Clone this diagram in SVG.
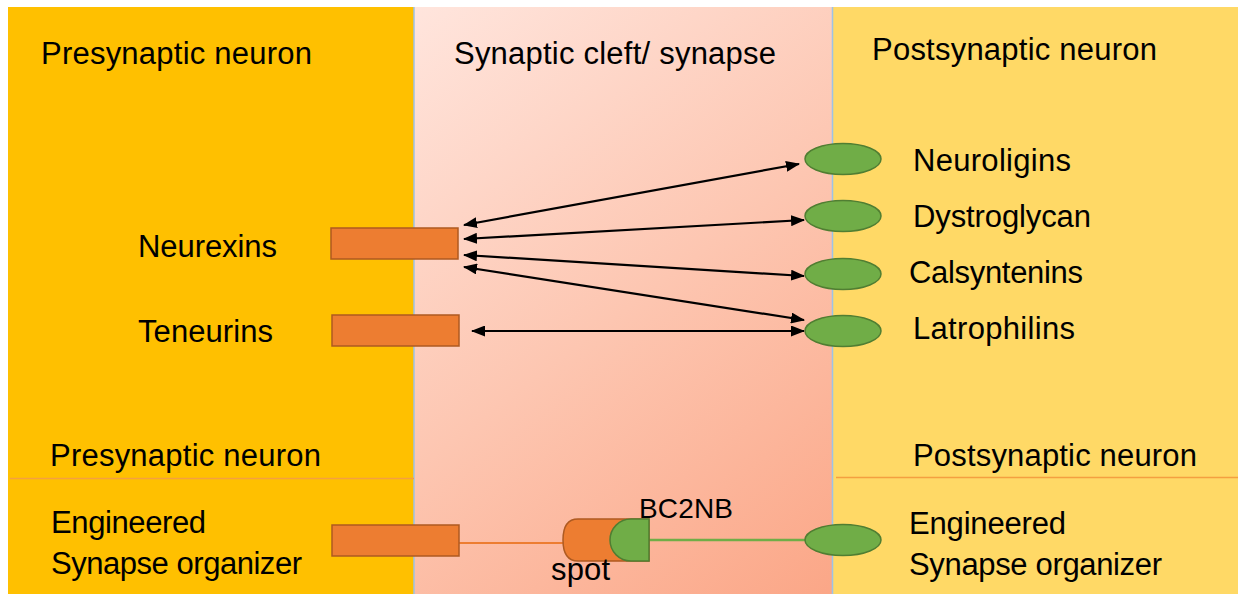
<svg xmlns="http://www.w3.org/2000/svg" width="1238" height="594" viewBox="0 0 1238 594">
<defs>
<linearGradient id="cleft" gradientUnits="userSpaceOnUse" x1="414" y1="7" x2="860" y2="594">
<stop offset="0" stop-color="#FFE5DD"/>
<stop offset="0.5" stop-color="#FDC6B1"/>
<stop offset="1" stop-color="#FBA585"/>
</linearGradient>
<marker id="ah" viewBox="0 0 14 11" refX="13" refY="5.5" markerWidth="14" markerHeight="11" markerUnits="userSpaceOnUse" orient="auto-start-reverse">
<path d="M0,0 L14,5.5 L0,11 Z" fill="#000"/>
</marker>
<style>
text{font-family:"Liberation Sans",Arial,sans-serif;font-size:31px;fill:#000}
.rect{fill:#ED7D31;stroke:#AE5A21;stroke-width:1.5}
.ell{fill:#70AD47;stroke:#507E32;stroke-width:1.5}
.arr{stroke:#000;stroke-width:2.2;fill:none;marker-start:url(#ah);marker-end:url(#ah)}
</style>
</defs>
<rect x="0" y="0" width="1238" height="594" fill="#fff"/>
<g id="panels">
<rect x="8" y="7" width="406" height="587" fill="#FFC000"/>
<rect x="414" y="7" width="419" height="587" fill="url(#cleft)"/>
<rect x="833" y="7" width="405" height="587" fill="#FFD966"/>
<line x1="414" y1="7" x2="414" y2="594" stroke="#9DC3E6" stroke-width="1.5"/>
<line x1="832.5" y1="7" x2="832.5" y2="594" stroke="#9DC3E6" stroke-width="1.5"/>
<line x1="10" y1="478.5" x2="414" y2="478.5" stroke="#F4A040" stroke-width="1.5"/>
<line x1="836" y1="477.5" x2="1238" y2="477.5" stroke="#F4A040" stroke-width="1.5"/>
</g>
<g id="titles">
<text x="41" y="64" textLength="271">Presynaptic neuron</text>
<text x="454" y="64" textLength="322">Synaptic cleft/ synapse</text>
<text x="872" y="60" textLength="285">Postsynaptic neuron</text>
<text x="50" y="466" textLength="271">Presynaptic neuron</text>
<text x="913" y="466" textLength="284">Postsynaptic neuron</text>
</g>
<g id="connectors">
<line class="arr" x1="464" y1="225" x2="799" y2="164"/>
<line class="arr" x1="464" y1="239" x2="804" y2="220"/>
<line class="arr" x1="464" y1="255" x2="804" y2="276"/>
<line class="arr" x1="464" y1="267" x2="804" y2="320"/>
<line class="arr" x1="472" y1="331" x2="804" y2="331"/>
<line x1="459" y1="543" x2="564" y2="543" stroke="#ED7D31" stroke-width="2"/>
<line x1="649" y1="540" x2="806" y2="540" stroke="#70AD47" stroke-width="2.5"/>
</g>
<g id="neurexins">
<rect class="rect" x="331" y="228" width="127" height="31"/>
<text x="138" y="257" textLength="139">Neurexins</text>
</g>
<g id="teneurins">
<rect class="rect" x="332" y="315" width="127" height="31"/>
<text x="138" y="342" textLength="135">Teneurins</text>
</g>
<g id="neuroligins">
<ellipse class="ell" cx="843" cy="159" rx="38" ry="15.5"/>
<text x="913" y="171" textLength="158">Neuroligins</text>
</g>
<g id="dystroglycan">
<ellipse class="ell" cx="843" cy="216" rx="38" ry="15.5"/>
<text x="913" y="227" textLength="178">Dystroglycan</text>
</g>
<g id="calsyntenins">
<ellipse class="ell" cx="843" cy="274" rx="38" ry="15.5"/>
<text x="909" y="283" textLength="174">Calsyntenins</text>
</g>
<g id="latrophilins">
<ellipse class="ell" cx="843" cy="331" rx="38" ry="15.5"/>
<text x="913" y="339" textLength="162">Latrophilins</text>
</g>
<g id="pre-organizer">
<rect class="rect" x="332" y="525" width="127" height="31"/>
<text x="51" y="533" textLength="155">Engineered</text>
<text x="51" y="574" textLength="251">Synapse organizer</text>
</g>
<g id="spot-bc2nb">
<path d="M578,519 L649,519 L649,561 L578,561 Q563,561 563,540 Q563,519 578,519 Z" fill="#ED7D31" stroke="#AE5A21" stroke-width="1.5"/>
<path d="M649,519 L631,519 A21,21 0 0 0 631,561 L649,561 Z" fill="#70AD47" stroke="#507E32" stroke-width="1.5"/>
<text x="639" y="518" style="font-size:28px" textLength="94">BC2NB</text>
<text x="551" y="580" textLength="59">spot</text>
</g>
<g id="post-organizer">
<ellipse class="ell" cx="843" cy="540" rx="38" ry="15.5"/>
<text x="909" y="534" textLength="157">Engineered</text>
<text x="909" y="575" textLength="253">Synapse organizer</text>
</g>
</svg>
